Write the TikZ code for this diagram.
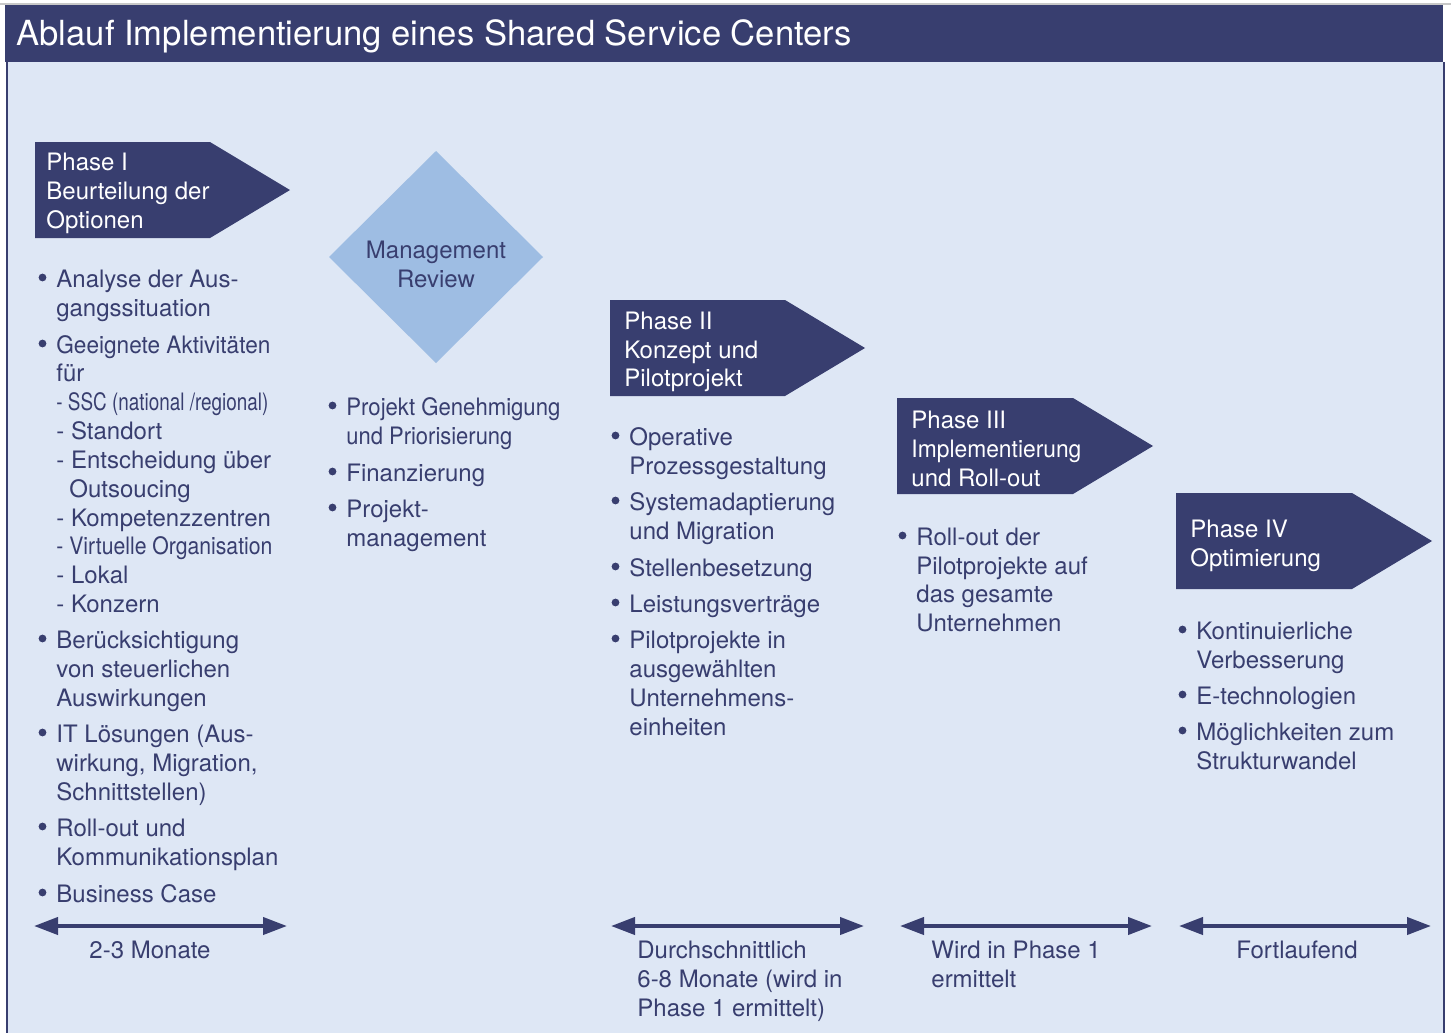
\documentclass[tikz,border=0pt]{standalone}
\usepackage{fontspec}
\setmainfont{TeX Gyre Heros}
\usetikzlibrary{arrows.meta}
\definecolor{navy}{HTML}{383E6F}
\definecolor{bgblue}{HTML}{DEE7F5}
\definecolor{dia}{HTML}{9EBDE3}
\definecolor{topgray}{HTML}{C8C8C8}
\begin{document}
\begin{tikzpicture}[x=0.5pt,y=-0.5pt,
  txt/.style={anchor=base west,inner sep=0pt,text=navy,font=\fontsize{12pt}{14.5pt}\selectfont},
  ctxt/.style={txt,anchor=base},
  ptxt/.style={anchor=base west,inner sep=0pt,text=white,font=\fontsize{12pt}{14.5pt}\selectfont},
  bul/.style={circle,fill=navy,inner sep=0pt,minimum size=3.9pt},
  phasebox/.style={fill=navy},
  dur/.style={draw=navy,line width=2pt,{Triangle[length=12pt,width=8.5pt]}-{Triangle[length=12pt,width=8.5pt]}}]
% canvas
\useasboundingbox (0,0) rectangle (1451,1033);
\fill[white] (0,0) rectangle (1451,1033);
\fill[bgblue] (7,62) rectangle (1444,1033);
\draw[topgray,line width=0.6pt] (0,4) -- (1451,4);
\fill[navy] (5,5) rectangle (1443,62);
\draw[navy,line width=1.2pt] (7,62) -- (7,1033);
\draw[navy,line width=1.2pt] (1444,62) -- (1444,1033);
\node[anchor=base west,inner sep=0pt,text=white,font=\fontsize{17.3pt}{20pt}\selectfont] (title) at (16,46) {Ablauf Implementierung eines Shared Service Centers};

% phase shapes
\fill[phasebox] (35,142) -- (210,142) -- (290,190) -- (210,238) -- (35,238) -- cycle;
\fill[phasebox] (610,300) -- (785,300) -- (865,348) -- (785,396) -- (610,396) -- cycle;
\fill[phasebox] (897,398) -- (1073,398) -- (1153,446) -- (1073,494) -- (897,494) -- cycle;
\fill[phasebox] (1176,493) -- (1352,493) -- (1432,541) -- (1352,589) -- (1176,589) -- cycle;
\fill[dia] (436,151) -- (543,257) -- (436,363) -- (329,257) -- cycle;

% phase texts
\node[ptxt] (p1a) at (46,170) {Phase I};
\node[ptxt] (p1b) at (46,199) {Beurteilung der};
\node[ptxt] (p1c) at (46,228) {Optionen};
\node[ptxt] (p2a) at (624,329) {Phase II};
\node[ptxt] (p2b) at (624,358) {Konzept und};
\node[ptxt] (p2c) at (624,386) {Pilotprojekt};
\node[ptxt] (p3a) at (911,428) {Phase III};
\node[ptxt] (p3b) at (911,457) {\resizebox{85pt}{\height}{Implementierung}};
\node[ptxt] (p3c) at (911,486) {und Roll-out};
\node[ptxt] (p4a) at (1190,537) {Phase IV};
\node[ptxt] (p4b) at (1190,566) {Optimierung};
\node[ctxt] (mr1) at (436,258) {Management};
\node[ctxt] (mr2) at (436,287) {Review};

% column 1
\foreach \yy/\ty [count=\i] in {279/Analyse der Aus-, 308/gangssituation, 345/{\resizebox{107pt}{\height}{Geeignete Aktivitäten}}, 373/für,
  402/{\resizebox{106pt}{\height}{- SSC (national /regional)}}, 431/- Standort, 460/- Entscheidung über,
  518/- Kompetenzzentren, 546/{\resizebox{108pt}{\height}{- Virtuelle Organisation}}, 575/- Lokal, 604/- Konzern,
  640/Berücksichtigung, 669/von steuerlichen, 698/Auswirkungen, 734/IT Lösungen (Aus-, 763/{wirkung, Migration,},
  792/Schnittstellen), 828/Roll-out und, 857/Kommunikationsplan, 894/Business Case}
  \node[txt] (ca\i) at (56,{\yy+8}) {\ty};
\node[txt] (ca-out) at (69,497) {Outsoucing};
\foreach \yy [count=\i] in {279,345,640,734,828,894}
  \node[bul] (ba\i) at (42.5,{\yy-1.5}) {};

% column 2
\foreach \yy/\ty [count=\i] in {407/{\resizebox{107pt}{\height}{Projekt Genehmigung}}, 436/{\resizebox{83pt}{\height}{und Priorisierung}},
  473/Finanzierung, 509/Projekt-, 538/management}
  \node[txt] (cb\i) at (346,{\yy+8}) {\ty};
\foreach \yy [count=\i] in {407,473,509}
  \node[bul] (bb\i) at (332.5,{\yy-1.5}) {};

% column 3
\foreach \yy/\ty [count=\i] in {437/Operative, 466/Prozessgestaltung, 502/Systemadaptierung, 531/und Migration,
  568/Stellenbesetzung, 604/Leistungsverträge, 640/Pilotprojekte in, 669/ausgewählten, 698/Unternehmens-, 727/einheiten}
  \node[txt] (cc\i) at (629,{\yy+8}) {\ty};
\foreach \yy [count=\i] in {437,502,568,604,640}
  \node[bul] (bc\i) at (615.5,{\yy-1.5}) {};

% column 4
\foreach \yy/\ty [count=\i] in {537/Roll-out der, 566/Pilotprojekte auf, 594/das gesamte, 623/Unternehmen}
  \node[txt] (cd\i) at (916,{\yy+8}) {\ty};
\node[bul] (bd1) at (902.5,535.5) {};

% column 5
\foreach \yy/\ty [count=\i] in {631/Kontinuierliche, 660/Verbesserung, 696/E-technologien, 732/Möglichkeiten zum, 761/Strukturwandel}
  \node[txt] (ce\i) at (1196,{\yy+8}) {\ty};
\foreach \yy [count=\i] in {631,696,732}
  \node[bul] (be\i) at (1182.5,{\yy-1.5}) {};

% duration arrows
\coordinate (d1a) at (34,926);   \coordinate (d1b) at (287,926);
\coordinate (d2a) at (611,926);  \coordinate (d2b) at (864,926);
\coordinate (d3a) at (900,926);  \coordinate (d3b) at (1152,926);
\coordinate (d4a) at (1179,926); \coordinate (d4b) at (1431,926);
\draw[dur] (d1a) -- (d1b);
\draw[dur] (d2a) -- (d2b);
\draw[dur] (d3a) -- (d3b);
\draw[dur] (d4a) -- (d4b);

\node[ctxt] (l1) at (150,958) {2-3 Monate};
\node[txt] (l2a) at (637,958) {Durchschnittlich};
\node[txt] (l2b) at (637,987) {6-8 Monate (wird in};
\node[txt] (l2c) at (637,1016) {Phase 1 ermittelt)};
\node[txt] (l3a) at (931,958) {Wird in Phase 1};
\node[txt] (l3b) at (931,987) {ermittelt};
\node[ctxt] (l4) at (1297,958) {Fortlaufend};
\end{tikzpicture}
\end{document}
